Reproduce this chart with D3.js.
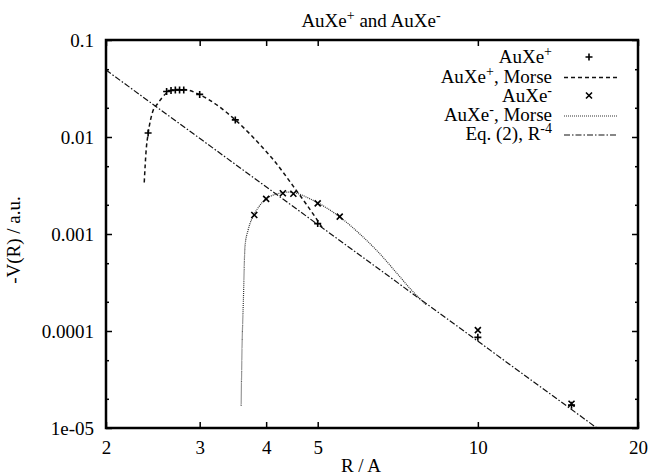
<!DOCTYPE html>
<html>
<head>
<meta charset="utf-8">
<script src="https://cdn.jsdelivr.net/npm/d3@7"></script>
<style>
	body { margin: 0; background: #fff; }
	svg { font-family: "Liberation Serif", "Times New Roman", serif; }
</style>
</head>
<body>
<svg id="chart" width="649" height="475"></svg>
<script>
//tick labels
var xTickValues = [2, 3, 4, 5, 10, 20];
var yTickValues = [0.1, 0.01, 0.001, 0.0001, 0.00001];
var yTickLabels = ["0.1", "0.01", "0.001", "0.0001", "1e-05"];
var yMinorTicks = [0.05, 0.02, 0.005, 0.002, 0.0005, 0.0002, 0.00005, 0.00002];

//AuXe+ computed points [R, -V]
var auxePlusPoints = [
	[2.4, 0.011], [2.6, 0.0295], [2.65, 0.0302], [2.7, 0.0305], [2.75, 0.0306],
	[2.8, 0.0305], [3.0, 0.0275], [3.5, 0.015], [5.0, 0.00128],
	[10, 0.000086], [15, 0.0000172]
];

//AuXe+ Morse fit
var auxePlusMorse = [
	[2.36, 0.0034], [2.38, 0.0074], [2.4, 0.0108], [2.45, 0.0185], [2.5, 0.022],
	[2.6, 0.0284], [2.7, 0.0308], [2.8, 0.0309], [3.0, 0.0273], [3.25, 0.0209],
	[3.5, 0.015], [3.75, 0.0104], [4.0, 0.0071], [4.13, 0.0058], [4.5, 0.0031],
	[5.0, 0.00137], [5.1, 0.00116]
];

//AuXe- computed points
var auxeMinusPoints = [
	[3.8, 0.00157], [4.0, 0.0023], [4.3, 0.00263], [4.5, 0.0026], [5.0, 0.00207],
	[5.5, 0.00151], [10, 0.000102], [15, 0.0000178]
];

//AuXe- Morse fit
var auxeMinusMorse = [
	[3.59, 0.000017], [3.6, 0.00005], [3.625, 0.00021], [3.65, 0.00075],
	[3.7, 0.0011], [3.8, 0.0016], [3.9, 0.002], [4.0, 0.0023], [4.2, 0.0026],
	[4.4, 0.0027], [4.6, 0.0026], [4.8, 0.00235], [5.0, 0.0021], [5.5, 0.0015],
	[6.0, 0.001], [6.5, 0.00065], [7.0, 0.00041], [7.5, 0.000265], [8.0, 0.000185]
];

//Eq. (2), R^-4 line ends
var eq2Line = [[2, 0.049], [16.74, 0.00001]];

var svg = d3.select("#chart");

var plotLeft = 106, plotRight = 638, plotTop = 40, plotBottom = 428;
var fontSize = "19px", supSize = "14px";

var x = d3.scaleLog().domain([2, 20]).range([plotLeft, plotRight]);
var y = d3.scaleLog().domain([0.00001, 0.1]).range([plotBottom, plotTop]);

svg.append("defs").append("clipPath")
	.attr("id", "plotclip")
	.append("rect")
	.attr("x", plotLeft).attr("y", plotTop)
	.attr("width", plotRight - plotLeft).attr("height", plotBottom - plotTop);

//axes, ticks point inward like gnuplot
function styleAxis(g){
	g.select(".domain").remove();
	g.selectAll(".tick line").attr("stroke", "#000").attr("stroke-width", 1.5);
	g.selectAll(".tick text").attr("fill", "#000").style("font-size", fontSize)
		.style("font-family", "'Liberation Serif', 'Times New Roman', serif");
}

svg.append("g")
	.attr("transform", "translate(0," + plotBottom + ")")
	.call(d3.axisBottom(x).tickValues(xTickValues).tickFormat(d3.format("d")).tickSize(-6).tickPadding(13))
	.call(styleAxis);

svg.append("g")
	.attr("transform", "translate(0," + plotTop + ")")
	.call(d3.axisTop(x).tickValues(xTickValues).tickFormat("").tickSize(-6))
	.call(styleAxis);

svg.append("g")
	.attr("transform", "translate(" + plotLeft + ",0)")
	.call(d3.axisLeft(y).tickValues(yTickValues).tickFormat(function(d, i){ return yTickLabels[i]; }).tickSize(-6).tickPadding(12))
	.call(styleAxis);

svg.append("g")
	.attr("transform", "translate(" + plotLeft + ",0)")
	.call(d3.axisLeft(y).tickValues(yMinorTicks).tickFormat("").tickSize(-3))
	.call(styleAxis);

svg.append("g")
	.attr("transform", "translate(" + plotRight + ",0)")
	.call(d3.axisRight(y).tickValues(yTickValues).tickFormat("").tickSize(-6))
	.call(styleAxis);

svg.append("g")
	.attr("transform", "translate(" + plotRight + ",0)")
	.call(d3.axisRight(y).tickValues(yMinorTicks).tickFormat("").tickSize(-3))
	.call(styleAxis);

//curves
var line = d3.line()
	.x(function(d){ return x(d[0]); })
	.y(function(d){ return y(d[1]); });

var smooth = d3.line()
	.x(function(d){ return x(d[0]); })
	.y(function(d){ return y(d[1]); })
	.curve(d3.curveMonotoneX);

var plot = svg.append("g").attr("clip-path", "url(#plotclip)");

plot.append("path")
	.datum(eq2Line)
	.attr("d", line)
	.attr("fill", "none")
	.attr("stroke", "#111")
	.attr("stroke-width", 1.2)
	.attr("stroke-dasharray", "6,2,1.5,2");

plot.append("path")
	.datum(auxePlusMorse)
	.attr("d", smooth)
	.attr("fill", "none")
	.attr("stroke", "#111")
	.attr("stroke-width", 1.5)
	.attr("stroke-dasharray", "4,3");

plot.append("path")
	.datum(auxeMinusMorse)
	.attr("d", smooth)
	.attr("fill", "none")
	.attr("stroke", "#333")
	.attr("stroke-width", 1.2)
	.attr("stroke-dasharray", "1,1");

var plusPath = "M-3.5,0H3.5M0,-3.5V3.5";
var crossPath = "M-3,-3L3,3M-3,3L3,-3";

plot.selectAll(".plus")
	.data(auxePlusPoints)
	.enter()
	.append("path")
	.attr("class", "plus")
	.attr("transform", function(d){ return "translate(" + x(d[0]) + "," + y(d[1]) + ")"; })
	.attr("d", plusPath)
	.attr("stroke", "#000")
	.attr("stroke-width", 1.6);

plot.selectAll(".cross")
	.data(auxeMinusPoints)
	.enter()
	.append("path")
	.attr("class", "cross")
	.attr("transform", function(d){ return "translate(" + x(d[0]) + "," + y(d[1]) + ")"; })
	.attr("d", crossPath)
	.attr("stroke", "#000")
	.attr("stroke-width", 1.6);

//frame
svg.append("rect")
	.attr("x", plotLeft).attr("y", plotTop)
	.attr("width", plotRight - plotLeft).attr("height", plotBottom - plotTop)
	.attr("fill", "none")
	.attr("stroke", "#000")
	.attr("stroke-width", 2.5);

//text with superscript
function supText(sel, base, sup, after){
	sel.append("tspan").text(base);
	sel.append("tspan").attr("dy", -7).style("font-size", supSize).text(sup);
	if(after){
		sel.append("tspan").attr("dy", 7).text(after);
	}
}

var title = svg.append("text")
	.attr("x", 371).attr("y", 27)
	.attr("text-anchor", "middle")
	.style("font-size", fontSize);
title.append("tspan").text("AuXe");
title.append("tspan").attr("dy", -7).style("font-size", supSize).text("+");
title.append("tspan").attr("dy", 7).text(" and AuXe");
title.append("tspan").attr("dy", -7).style("font-size", supSize).text("-");

svg.append("text")
	.attr("x", 361).attr("y", 472)
	.attr("text-anchor", "middle")
	.style("font-size", fontSize)
	.text("R / A");

svg.append("text")
	.attr("transform", "translate(20,240) rotate(-90)")
	.attr("text-anchor", "middle")
	.style("font-size", fontSize)
	.text("-V(R) / a.u.");

//legend
var legendRows = [63, 82.5, 101.5, 121, 140];
var legendX = 552;

function legendText(yy, base, sup, after){
	var t = svg.append("text")
		.attr("x", legendX).attr("y", yy)
		.attr("text-anchor", "end")
		.style("font-size", fontSize);
	supText(t, base, sup, after);
}

legendText(legendRows[0], "AuXe", "+");
legendText(legendRows[1], "AuXe", "+", ", Morse");
legendText(legendRows[2], "AuXe", "-");
legendText(legendRows[3], "AuXe", "-", ", Morse");
legendText(legendRows[4], "Eq. (2), R", "-4");

svg.append("path")
	.attr("transform", "translate(589," + (legendRows[0] - 6) + ")")
	.attr("d", plusPath)
	.attr("stroke", "#000")
	.attr("stroke-width", 1.6);

svg.append("path")
	.attr("transform", "translate(589," + (legendRows[2] - 6) + ")")
	.attr("d", crossPath)
	.attr("stroke", "#000")
	.attr("stroke-width", 1.6);

svg.append("line")
	.attr("x1", 564).attr("x2", 617)
	.attr("y1", legendRows[1] - 5).attr("y2", legendRows[1] - 5)
	.attr("stroke", "#111").attr("stroke-width", 1.5)
	.attr("stroke-dasharray", "4,3");

svg.append("line")
	.attr("x1", 564).attr("x2", 617)
	.attr("y1", legendRows[3] - 5).attr("y2", legendRows[3] - 5)
	.attr("stroke", "#333").attr("stroke-width", 1.2)
	.attr("stroke-dasharray", "1,1");

svg.append("line")
	.attr("x1", 564).attr("x2", 617)
	.attr("y1", legendRows[4] - 5).attr("y2", legendRows[4] - 5)
	.attr("stroke", "#111").attr("stroke-width", 1.2)
	.attr("stroke-dasharray", "6,2,1.5,2");
</script>
</body>
</html>
